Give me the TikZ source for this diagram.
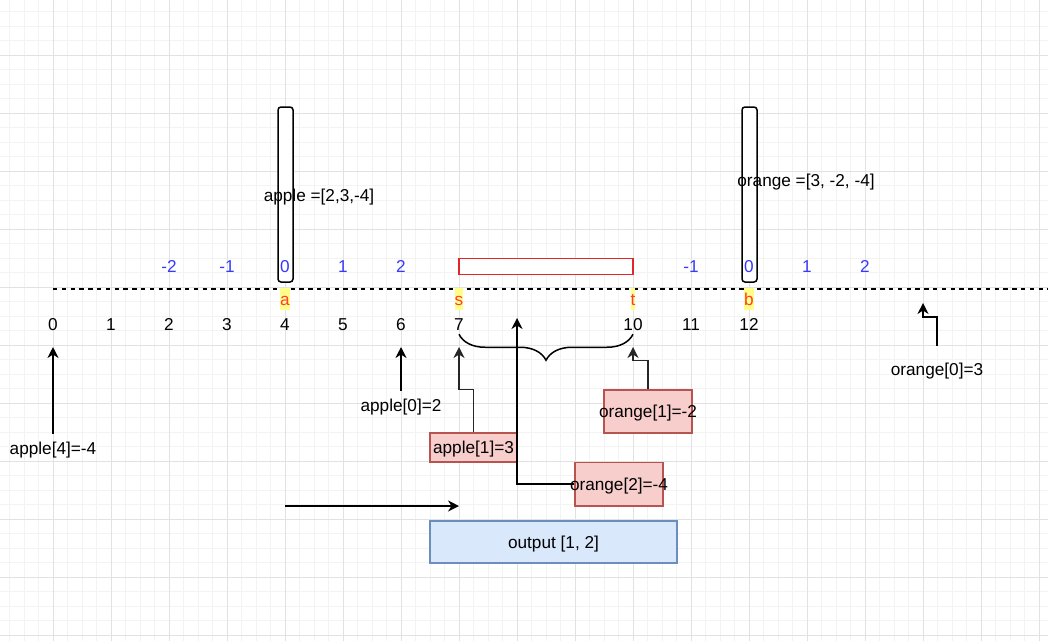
\documentclass[tikz,border=0pt]{standalone}
\usepackage{fontspec}
\setmainfont{Liberation Sans}
\usetikzlibrary{arrows.meta,decorations.pathreplacing}

\definecolor{gridmin}{HTML}{F3F3F3}
\definecolor{gridmaj}{HTML}{E2E2E2}
\definecolor{idxblue}{HTML}{3838FF}
\definecolor{ptred}{HTML}{FF3B3B}
\definecolor{hlyellow}{HTML}{FFFF88}
\definecolor{redfill}{HTML}{F8CECC}
\definecolor{redline}{HTML}{B85450}
\definecolor{bluefill}{HTML}{DAE8FC}
\definecolor{blueline}{HTML}{6C8EBF}
\definecolor{winred}{HTML}{E02828}

\begin{document}
\begin{tikzpicture}[x=1pt, y=-1pt,
    every node/.style={font=\fontsize{17.2pt}{20pt}\selectfont,
        text height=14.5pt, text depth=1.6pt},
    gmin/.style={gridmin, line width=1pt},
    gmaj/.style={gridmaj, line width=1pt},
    num/.style={inner sep=2pt},
    idx/.style={num, text=idxblue},
    ptr/.style={text=ptred, fill=hlyellow, inner sep=0pt, minimum height=22pt},
    lbl/.style={inner xsep=2pt, inner ysep=6pt},
    bar/.style={draw, line width=1.5pt, fill=white, rounded corners=3pt,
        minimum width=15pt, minimum height=175pt, inner sep=0pt},
    redbox/.style={draw=redline, fill=redfill, line width=1.5pt, inner sep=0pt},
    arr/.style={line width=1.5pt, -{Stealth[length=11pt,width=11pt,inset=3.5pt]}}]

    \useasboundingbox (0,0) rectangle (1048,641);
    \fill[white] (0,0) rectangle (1048,641);

    % grid
    \foreach \i in {0,...,73}
        \draw[gmin] ({-4.67+14.5*\i},0) -- ++(0,641);
    \foreach \i in {0,...,44}
        \draw[gmin] (0,{-3+14.5*\i}) -- ++(1048,0);
    \foreach \i in {0,...,18}
        \draw[gmaj] ({-4.67+58*\i},0) -- ++(0,641);
    \foreach \i in {0,...,11}
        \draw[gmaj] (0,{-3+58*\i}) -- ++(1048,0);

    % the two arrays
    \node[bar] (apple) at (285.5,194.5) {};
    \node[bar] (orange) at (749.5,194.5) {};
    \node (applet) at (319,195) {apple =[2,3,-4]};
    \node (oranget) at (806,180) {orange =[3, -2, -4]};

    \node[draw=winred, line width=1.5pt, fill=white, minimum width=174pt,
        minimum height=15pt, inner sep=0pt] (win) at (546,266.5) {};

    \foreach \v/\x [count=\i] in {-2/169,-1/227,0/285,1/343,2/401}
        \node[idx] (ia\i) at (\x,266) {\v};
    \foreach \v/\x [count=\i] in {-1/691,0/749,1/807,2/865}
        \node[idx] (ib\i) at (\x,266) {\v};

    % number line
    \coordinate (ls) at (53,289);
    \coordinate (le) at (1048,289);
    \draw[line width=1.5pt, dash pattern=on 4.4pt off 4.4pt] (ls) -- (le);

    \foreach \v/\x in {a/285,s/459,t/633,b/749}
        \node[ptr] (p\v) at (\x,299) {\v};
    \foreach \v/\x in {0/53,1/111,2/169,3/227,4/285,5/343,6/401,7/459,10/633,11/691,12/749}
        \node[num] (n\v) at (\x,324) {\v};

    \draw[line width=1.5pt, decorate, decoration={brace, amplitude=26pt}]
        (n10.south) -- (n7.south);

    % values
    \node[lbl] (a4) at (53,448) {apple[4]=-4};
    \node[lbl] (a0) at (401,405) {apple[0]=2};
    \node[lbl] (o0) at (937,369) {orange[0]=3};
    \node[redbox, minimum width=87pt, minimum height=29pt] (a1) at (473.5,447.5) {apple[1]=3};
    \node[redbox, minimum width=88pt, minimum height=43pt] (o1) at (648,411.5) {\makebox[88pt]{orange[1]=-2}};
    \node[redbox, minimum width=88pt, minimum height=43.5pt] (o2) at (619,484) {\makebox[88pt]{orange[2]=-4}};
    \node[draw=blueline, fill=bluefill, line width=1.5pt, minimum width=247pt,
        minimum height=42pt, inner sep=0pt] (out) at (553.5,542) {output [1, 2]};

    \coordinate (t0) at (53,347);
    \coordinate (t6) at (401,347);
    \coordinate (t7) at (459,347);
    \coordinate (t10) at (633,347);
    \coordinate (tm) at (517,318);
    \coordinate (tr) at (923,303);
    \coordinate (h0) at (285,506);
    \coordinate (h1) at (459,506);

    \draw[arr] (a4.north) -- (t0);
    \draw[arr] (a0.north) -- (t6);
    \draw[arr, black!85] (a1.north) -- ++(0,-43) -| (t7);
    \draw[arr, black!85] (o1.north) -- ++(0,-29) -| (t10);
    \draw[arr] (o2.west) -| (tm);
    \draw[arr, shorten <=9pt] (o0.north) -- ++(0,-38) -| (tr);
    \draw[arr] (h0) -- (h1);

\end{tikzpicture}
\end{document}
